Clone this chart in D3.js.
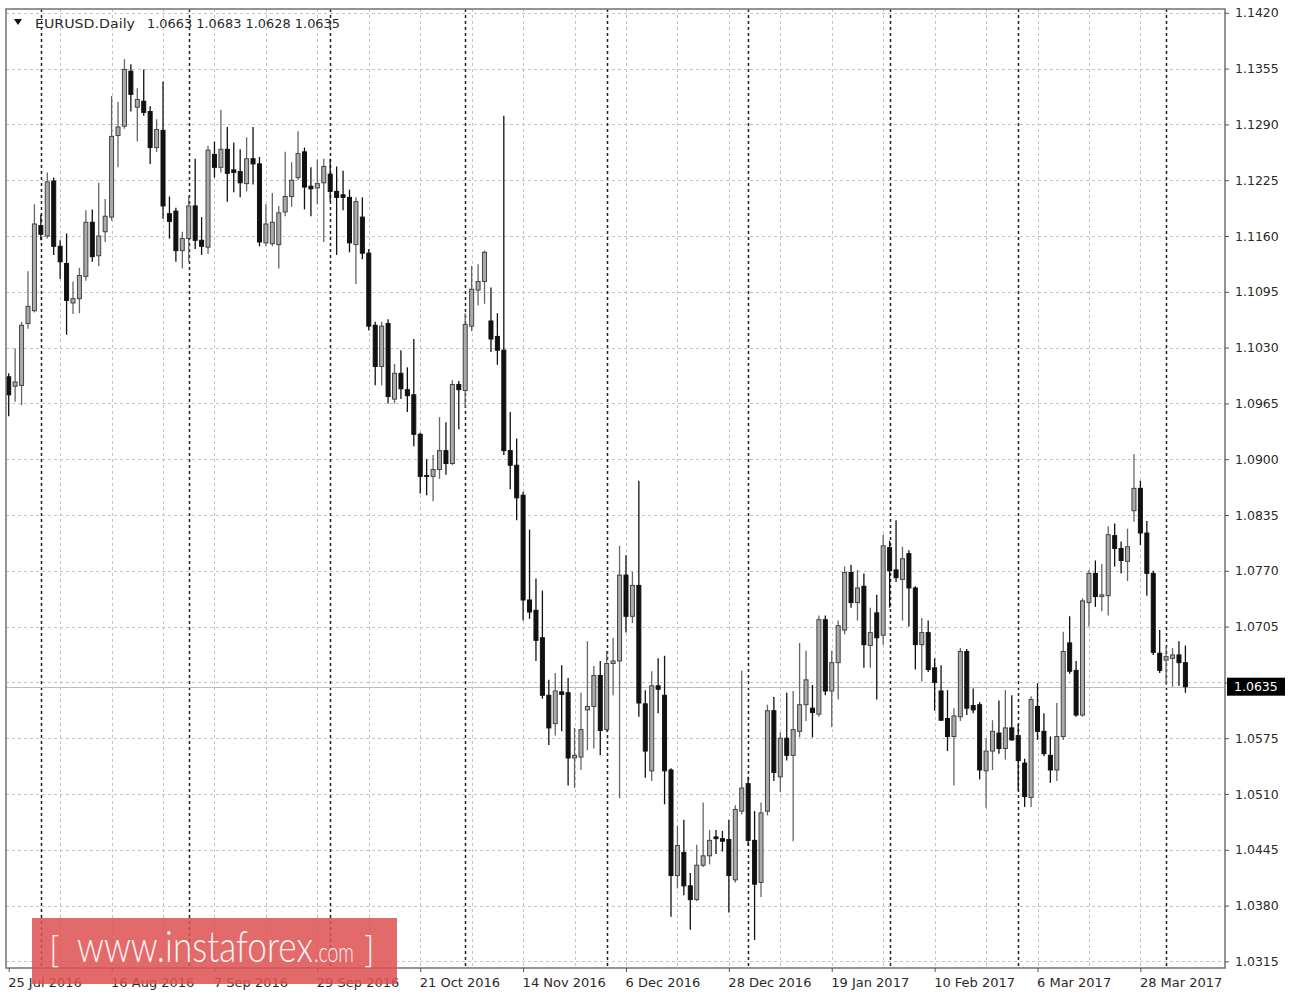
<!DOCTYPE html>
<html>
<head>
<meta charset="utf-8">
<script src="https://cdn.jsdelivr.net/npm/d3@7"></script>
<style>
  html, body { margin: 0; padding: 0; background: #ffffff; }
  svg { display: block; }
</style>
</head>
<body>
<svg id="chart" width="1292" height="994"></svg>
<script>
// ---------------- DATA ----------------
const symbolTitle = "EURUSD.Daily";
const dates = [
"2016-07-25","2016-07-26","2016-07-27","2016-07-28","2016-07-29",
"2016-08-01","2016-08-02","2016-08-03","2016-08-04","2016-08-05","2016-08-08","2016-08-09","2016-08-10","2016-08-11","2016-08-12",
"2016-08-15","2016-08-16","2016-08-17","2016-08-18","2016-08-19","2016-08-22","2016-08-23","2016-08-24","2016-08-25","2016-08-26",
"2016-08-29","2016-08-30","2016-08-31",
"2016-09-01","2016-09-02","2016-09-05","2016-09-06","2016-09-07","2016-09-08","2016-09-09","2016-09-12","2016-09-13","2016-09-14",
"2016-09-15","2016-09-16","2016-09-19","2016-09-20","2016-09-21","2016-09-22","2016-09-23","2016-09-26","2016-09-27","2016-09-28",
"2016-09-29","2016-09-30",
"2016-10-03","2016-10-04","2016-10-05","2016-10-06","2016-10-07","2016-10-10","2016-10-11","2016-10-12","2016-10-13","2016-10-14",
"2016-10-17","2016-10-18","2016-10-19","2016-10-20","2016-10-21","2016-10-24","2016-10-25","2016-10-26","2016-10-27","2016-10-28",
"2016-10-31",
"2016-11-01","2016-11-02","2016-11-03","2016-11-04","2016-11-07","2016-11-08","2016-11-09","2016-11-10","2016-11-11","2016-11-14",
"2016-11-15","2016-11-16","2016-11-17","2016-11-18","2016-11-21","2016-11-22","2016-11-23","2016-11-24","2016-11-25","2016-11-28",
"2016-11-29","2016-11-30",
"2016-12-01","2016-12-02","2016-12-05","2016-12-06","2016-12-07","2016-12-08","2016-12-09","2016-12-12","2016-12-13","2016-12-14",
"2016-12-15","2016-12-16","2016-12-19","2016-12-20","2016-12-21","2016-12-22","2016-12-23","2016-12-26","2016-12-27","2016-12-28",
"2016-12-29","2016-12-30",
"2017-01-02","2017-01-03","2017-01-04","2017-01-05","2017-01-06","2017-01-09","2017-01-10","2017-01-11","2017-01-12","2017-01-13",
"2017-01-16","2017-01-17","2017-01-18","2017-01-19","2017-01-20","2017-01-23","2017-01-24","2017-01-25","2017-01-26","2017-01-27",
"2017-01-30","2017-01-31",
"2017-02-01","2017-02-02","2017-02-03","2017-02-06","2017-02-07","2017-02-08","2017-02-09","2017-02-10","2017-02-13","2017-02-14",
"2017-02-15","2017-02-16","2017-02-17","2017-02-20","2017-02-21","2017-02-22","2017-02-23","2017-02-24","2017-02-27","2017-02-28",
"2017-03-01","2017-03-02","2017-03-03","2017-03-06","2017-03-07","2017-03-08","2017-03-09","2017-03-10","2017-03-13","2017-03-14",
"2017-03-15","2017-03-16","2017-03-17","2017-03-20","2017-03-21","2017-03-22","2017-03-23","2017-03-24","2017-03-27","2017-03-28",
"2017-03-29","2017-03-30","2017-03-31",
"2017-04-03","2017-04-04","2017-04-05","2017-04-06"
];
const open = [
1.0996,1.0985,1.0986,1.1058,1.1073,1.1172,1.1160,1.1224,1.1148,1.1128,
1.1082,1.1087,1.1113,1.1176,1.1137,1.1165,1.1182,1.1277,1.1288,1.1352,
1.1310,1.1317,1.1305,1.1263,1.1283,1.1186,1.1189,1.1143,1.1157,1.1195,
1.1155,1.1147,1.1255,1.1240,1.1261,1.1237,1.1235,1.1221,1.1250,1.1244,
1.1152,1.1151,1.1150,1.1188,1.1206,1.1228,1.1258,1.1218,1.1216,1.1222,
1.1232,1.1212,1.1208,1.1205,1.1150,1.1182,1.1140,1.1056,1.1008,1.1058,
1.0970,1.1000,1.0981,1.0975,1.0929,1.0881,1.0880,1.0888,1.0910,1.0895,
1.0987,1.0980,1.1055,1.1097,1.1107,1.1061,1.1043,1.1027,1.0910,1.0893,
1.0858,1.0736,1.0724,1.0692,1.0625,1.0592,1.0629,1.0628,1.0552,1.0553,
1.0608,1.0612,1.0648,1.0585,1.0662,1.0665,1.0765,1.0717,1.0753,1.0615,
1.0537,1.0636,1.0625,1.0538,1.0415,1.0442,1.0403,1.0387,1.0427,1.0438,
1.0460,1.0458,1.0457,1.0410,1.0490,1.0522,1.0456,1.0407,1.0490,1.0607,
1.0530,1.0575,1.0555,1.0583,1.0614,1.0610,1.0603,1.0713,1.0630,1.0663,
1.0701,1.0768,1.0733,1.0752,1.0683,1.0721,1.0695,1.0797,1.0771,1.0760,
1.0790,1.0750,1.0684,1.0698,1.0657,1.0630,1.0598,1.0577,1.0600,1.0676,
1.0613,1.0614,1.0537,1.0560,1.0581,1.0563,1.0587,1.0578,1.0546,1.0506,
1.0612,1.0583,1.0555,1.0538,1.0577,1.0686,1.0654,1.0602,1.0733,1.0767,
1.0740,1.0741,1.0811,1.0796,1.0781,1.0840,1.0866,1.0814,1.0767,1.0674,
1.0666,1.0668,1.0672,1.0663
];
const high = [
1.1000,1.1029,1.1060,1.1119,1.1197,1.1185,1.1234,1.1228,1.1155,1.1163,
1.1107,1.1123,1.1190,1.1191,1.1222,1.1203,1.1323,1.1316,1.1366,1.1360,
1.1332,1.1354,1.1311,1.1296,1.1340,1.1206,1.1193,1.1165,1.1207,1.1250,
1.1182,1.1265,1.1270,1.1307,1.1287,1.1269,1.1261,1.1275,1.1287,1.1252,
1.1197,1.1210,1.1195,1.1258,1.1246,1.1282,1.1263,1.1240,1.1249,1.1250,
1.1250,1.1241,1.1236,1.1214,1.1205,1.1205,1.1145,1.1060,1.1060,1.1063,
1.1011,1.1027,1.1007,1.1040,1.0931,1.0900,1.0905,1.0949,1.0943,1.0992,
1.0991,1.1070,1.1125,1.1127,1.1143,1.1100,1.1070,1.1300,1.0955,1.0924,
1.0862,1.0818,1.0761,1.0747,1.0643,1.0651,1.0660,1.0645,1.0587,1.0628,
1.0688,1.0659,1.0665,1.0677,1.0692,1.0799,1.0788,1.0769,1.0875,1.0631,
1.0653,1.0668,1.0671,1.0540,1.0473,1.0480,1.0418,1.0451,1.0500,1.0468,
1.0468,1.0467,1.0480,1.0497,1.0654,1.0530,1.0490,1.0500,1.0614,1.0623,
1.0582,1.0628,1.0630,1.0686,1.0677,1.0637,1.0718,1.0718,1.0677,1.0712,
1.0775,1.0777,1.0771,1.0767,1.0727,1.0742,1.0812,1.0805,1.0829,1.0798,
1.0794,1.0752,1.0715,1.0712,1.0668,1.0660,1.0631,1.0610,1.0680,1.0679,
1.0633,1.0617,1.0575,1.0596,1.0619,1.0631,1.0625,1.0591,1.0551,1.0624,
1.0639,1.0604,1.0577,1.0616,1.0699,1.0717,1.0665,1.0738,1.0771,1.0782,
1.0778,1.0822,1.0825,1.0804,1.0819,1.0906,1.0875,1.0828,1.0770,1.0701,
1.0682,1.0680,1.0688,1.0683
];
const low = [
1.0950,1.0967,1.0963,1.1052,1.1071,1.1155,1.1157,1.1138,1.1110,1.1045,
1.1069,1.1070,1.1108,1.1130,1.1125,1.1153,1.1178,1.1240,1.1285,1.1305,
1.1270,1.1300,1.1244,1.1258,1.1180,1.1157,1.1130,1.1122,1.1130,1.1145,
1.1138,1.1139,1.1228,1.1234,1.1200,1.1211,1.1205,1.1212,1.1220,1.1148,
1.1148,1.1148,1.1122,1.1183,1.1194,1.1225,1.1191,1.1183,1.1197,1.1153,
1.1200,1.1138,1.1190,1.1141,1.1104,1.1133,1.1050,1.0986,1.0986,1.0965,
1.0965,1.0970,1.0955,1.0915,1.0860,1.0858,1.0851,1.0877,1.0882,1.0893,
1.0935,1.0960,1.1049,1.1079,1.1081,1.1025,1.1010,1.0905,1.0865,1.0829,
1.0712,1.0714,1.0665,1.0621,1.0567,1.0578,1.0583,1.0520,1.0517,1.0538,
1.0561,1.0563,1.0555,1.0582,1.0625,1.0505,1.0698,1.0709,1.0600,1.0529,
1.0525,1.0604,1.0498,1.0367,1.0400,1.0392,1.0352,1.0385,1.0425,1.0428,
1.0440,1.0443,1.0372,1.0407,1.0486,1.0450,1.0340,1.0390,1.0485,1.0525,
1.0512,1.0549,1.0455,1.0576,1.0595,1.0576,1.0600,1.0625,1.0588,1.0620,
1.0696,1.0727,1.0712,1.0657,1.0657,1.0620,1.0684,1.0727,1.0757,1.0712,
1.0705,1.0655,1.0641,1.0652,1.0607,1.0595,1.0560,1.0520,1.0595,1.0602,
1.0604,1.0527,1.0494,1.0538,1.0557,1.0550,1.0572,1.0514,1.0495,1.0495,
1.0573,1.0554,1.0523,1.0525,1.0573,1.0650,1.0600,1.0600,1.0705,1.0728,
1.0723,1.0718,1.0775,1.0767,1.0758,1.0827,1.0800,1.0741,1.0672,1.0651,
1.0637,1.0635,1.0636,1.0628
];
const close = [
1.0975,1.0990,1.1056,1.1078,1.1174,1.1162,1.1223,1.1148,1.1130,1.1085,
1.1087,1.1114,1.1176,1.1136,1.1160,1.1183,1.1276,1.1287,1.1354,1.1325,
1.1319,1.1304,1.1263,1.1284,1.1195,1.1177,1.1143,1.1157,1.1195,1.1155,
1.1148,1.1260,1.1240,1.1261,1.1233,1.1234,1.1222,1.1250,1.1244,1.1153,
1.1174,1.1176,1.1187,1.1206,1.1225,1.1256,1.1217,1.1215,1.1221,1.1241,
1.1212,1.1205,1.1205,1.1152,1.1200,1.1140,1.1055,1.1008,1.1055,1.0973,
1.1000,1.0982,1.0974,1.0929,1.0880,1.0880,1.0888,1.0910,1.0895,1.0987,
1.0981,1.1057,1.1098,1.1107,1.1141,1.1040,1.1027,1.0910,1.0893,1.0855,
1.0736,1.0722,1.0689,1.0625,1.0587,1.0630,1.0626,1.0552,1.0555,1.0585,
1.0612,1.0648,1.0584,1.0662,1.0665,1.0765,1.0717,1.0753,1.0616,1.0560,
1.0636,1.0632,1.0537,1.0415,1.0450,1.0403,1.0387,1.0427,1.0438,1.0456,
1.0458,1.0455,1.0415,1.0492,1.0517,1.0456,1.0405,1.0488,1.0607,1.0535,
1.0575,1.0555,1.0585,1.0614,1.0643,1.0605,1.0713,1.0630,1.0663,1.0706,
1.0768,1.0733,1.0750,1.0684,1.0698,1.0692,1.0799,1.0770,1.0762,1.0784,
1.0750,1.0684,1.0698,1.0655,1.0640,1.0596,1.0577,1.0601,1.0676,1.0610,
1.0608,1.0538,1.0560,1.0583,1.0563,1.0587,1.0573,1.0549,1.0507,1.0620,
1.0583,1.0557,1.0538,1.0577,1.0676,1.0653,1.0602,1.0735,1.0767,1.0740,
1.0742,1.0812,1.0796,1.0782,1.0798,1.0866,1.0814,1.0767,1.0675,1.0654,
1.0670,1.0672,1.0663,1.0635
];
const priceTicks = [1.1420,1.1355,1.1290,1.1225,1.1160,1.1095,1.1030,1.0965,1.0900,1.0835,
                    1.0770,1.0705,1.0640,1.0575,1.0510,1.0445,1.0380,1.0315];
const hiddenPriceLabels = [1.0640];
const xTickDates  = ["2016-07-25","2016-08-16","2016-09-07","2016-09-29","2016-10-21","2016-11-14",
                     "2016-12-06","2016-12-28","2017-01-19","2017-02-10","2017-03-06","2017-03-28"];
const xTickLabels = ["25 Jul 2016","16 Aug 2016","7 Sep 2016","29 Sep 2016","21 Oct 2016","14 Nov 2016",
                     "6 Dec 2016","28 Dec 2016","19 Jan 2017","10 Feb 2017","6 Mar 2017","28 Mar 2017"];
const separatorDates = ["2016-08-01","2016-09-01","2016-10-03","2016-11-01","2016-12-01",
                        "2017-01-02","2017-02-01","2017-03-01","2017-04-03"];
const watermarkText = ["[", "www.instaforex", ".com", "]"];

// ---------------- LAYOUT ----------------
const W = 1292, H = 994;
const plot = { left: 6, right: 1225, top: 9, bottom: 968 };
const FONT = "'DejaVu Sans', Verdana, sans-serif";

const bars = dates.map((d, i) => ({ d, o: open[i], h: high[i], l: low[i], c: close[i], i }));

const x = d3.scalePoint().domain(dates).range([8.7, 1185.4]);
const y = d3.scaleLinear().domain([1.0315, 1.1420]).range([961.4, 12.8]);

const svg = d3.select("#chart");
svg.append("rect").attr("width", W).attr("height", H).attr("fill", "#ffffff");

svg.append("defs").append("clipPath").attr("id", "plotClip")
  .append("rect")
  .attr("x", plot.left).attr("y", plot.top)
  .attr("width", plot.right - plot.left).attr("height", plot.bottom - plot.top);

const gGrid = svg.append("g");
gGrid.selectAll("line.hg").data(priceTicks).join("line")
  .attr("x1", plot.left).attr("x2", plot.right)
  .attr("y1", d => Math.round(y(d)) + 0.5).attr("y2", d => Math.round(y(d)) + 0.5)
  .attr("stroke", "#c4c4c4").attr("stroke-width", 1).attr("stroke-dasharray", "3,3");
const vGridDates = dates.filter((d, i) => i % 8 === 0 && i > 0);
gGrid.selectAll("line.vg").data(vGridDates).join("line")
  .attr("x1", d => Math.round(x(d)) + 0.5).attr("x2", d => Math.round(x(d)) + 0.5)
  .attr("y1", plot.top).attr("y2", plot.bottom)
  .attr("stroke", "#c4c4c4").attr("stroke-width", 1).attr("stroke-dasharray", "3,3");
gGrid.selectAll("line.sep").data(separatorDates).join("line")
  .attr("x1", d => Math.round(x(d)) + 0.5).attr("x2", d => Math.round(x(d)) + 0.5)
  .attr("y1", plot.top).attr("y2", plot.bottom)
  .attr("stroke", "#222").attr("stroke-width", 1.5).attr("stroke-dasharray", "3,3");

const last = bars[bars.length - 1];
svg.append("line")
  .attr("x1", plot.left).attr("x2", plot.right)
  .attr("y1", Math.round(y(last.c)) + 0.5).attr("y2", Math.round(y(last.c)) + 0.5)
  .attr("stroke", "#bdbdbd").attr("stroke-width", 1.2);

const gC = svg.append("g").attr("clip-path", "url(#plotClip)");
const bw = 4;
const cg = gC.selectAll("g.candle").data(bars).join("g");
cg.append("line")
  .attr("x1", d => x(d.d)).attr("x2", d => x(d.d))
  .attr("y1", d => y(d.h)).attr("y2", d => y(d.l))
  .attr("stroke", d => d.c >= d.o ? "#666" : "#111")
  .attr("stroke-width", 1.3);
cg.append("rect")
  .attr("x", d => x(d.d) - bw / 2)
  .attr("y", d => y(Math.max(d.o, d.c)))
  .attr("width", bw)
  .attr("height", d => Math.max(0.6, Math.abs(y(d.o) - y(d.c))))
  .attr("fill", d => d.c >= d.o ? "#aaaaaa" : "#111")
  .attr("stroke", d => d.c >= d.o ? "#444" : "#111")
  .attr("stroke-width", 1);

svg.append("rect")
  .attr("x", plot.left).attr("y", plot.top)
  .attr("width", plot.right - plot.left).attr("height", plot.bottom - plot.top)
  .attr("fill", "none").attr("stroke", "#7a7a7a").attr("stroke-width", 1.6);

const yAxis = d3.axisRight(y)
  .tickValues(priceTicks)
  .tickSize(4).tickPadding(6)
  .tickFormat(d => hiddenPriceLabels.includes(d) ? "" : d3.format(".4f")(d));
const gy = svg.append("g").attr("transform", `translate(${plot.right},0)`).call(yAxis);
gy.select(".domain").remove();
gy.selectAll(".tick line").attr("stroke", "#555");
gy.selectAll(".tick text").attr("font-family", FONT).attr("font-size", 12.5).attr("fill", "#2a2a2a");

const xAxis = d3.axisBottom(x)
  .tickValues(xTickDates)
  .tickSize(4).tickPadding(6)
  .tickFormat((d) => xTickLabels[xTickDates.indexOf(d)]);
const gx = svg.append("g").attr("transform", `translate(0,${plot.bottom})`).call(xAxis);
gx.select(".domain").remove();
gx.selectAll(".tick line").attr("stroke", "#555");
gx.selectAll(".tick text").attr("font-family", FONT).attr("font-size", 13)
  .attr("fill", "#2a2a2a").attr("text-anchor", "start").attr("dx", "-1");

const py = y(last.c);
svg.append("rect").attr("x", 1227).attr("y", py - 9).attr("width", 58).attr("height", 18).attr("fill", "#000");
svg.append("text").attr("x", 1234).attr("y", py + 4.5)
  .attr("font-family", FONT).attr("font-size", 12.5).attr("fill", "#fff")
  .text(d3.format(".4f")(last.c));

const gT = svg.append("g").attr("font-family", FONT).attr("font-size", 13).attr("fill", "#2a2a2a");
gT.append("path").attr("d", "M14,19 L22,19 L18,25 Z").attr("fill", "#111");
gT.append("text").attr("x", 35).attr("y", 27.5).attr("textLength", 100).attr("lengthAdjust", "spacingAndGlyphs").text(symbolTitle);
gT.append("text").attr("x", 147).attr("y", 27.5).attr("textLength", 193).attr("lengthAdjust", "spacingAndGlyphs")
  .text([last.o, last.h, last.l, last.c].map(d3.format(".4f")).join(" "));

// watermark
const gW = svg.append("g");
gW.append("rect").attr("x", 32).attr("y", 918).attr("width", 365).attr("height", 66)
  .attr("fill", "#de5252").attr("opacity", 0.86);
const wmFont = "Lato, 'Open Sans', sans-serif";
const wmAttrs = sel => sel.attr("font-family", wmFont).attr("font-weight", 300)
  .attr("fill", "#fff").attr("opacity", 0.92).attr("y", 962);
gW.append("text").call(wmAttrs).attr("x", 49).attr("font-size", 36).text(watermarkText[0]);
gW.append("text").call(wmAttrs).attr("x", 77).attr("font-size", 44)
  .attr("textLength", 236).attr("lengthAdjust", "spacingAndGlyphs").text(watermarkText[1]);
gW.append("text").call(wmAttrs).attr("x", 314).attr("font-size", 27)
  .attr("textLength", 40).attr("lengthAdjust", "spacingAndGlyphs").text(watermarkText[2]);
gW.append("text").call(wmAttrs).attr("x", 364).attr("font-size", 36).text(watermarkText[3]);
</script>
</body>
</html>
